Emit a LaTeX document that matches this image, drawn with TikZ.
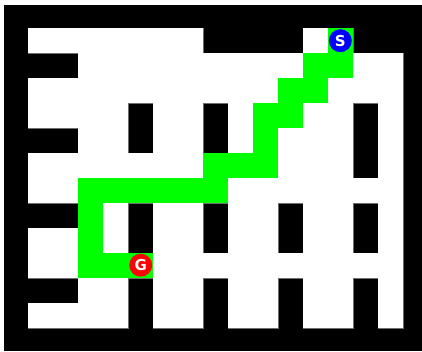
\documentclass[tikz,border=0pt]{standalone}
\usepackage{fontspec}
\setmainfont{DejaVu Sans}
\definecolor{pathgreen}{RGB}{0,255,0}
\definecolor{sblue}{RGB}{0,0,255}
\definecolor{gred}{RGB}{255,0,0}
\definecolor{edgegray}{RGB}{110,110,110}
\tikzset{
  marker/.style={circle, minimum size=23pt, inner sep=0pt, text=white,
    font=\fontsize{15}{15}\selectfont\bfseries},
}
\begin{document}
\begin{tikzpicture}[x=1pt,y=-1pt]
\useasboundingbox (0,0) rectangle (422,351);
\fill[white] (0,0) rectangle (422,351);
\fill[black] (4,5) rectangle (422,351);
% 0 = wall, 1 = free, 2 = path
\def\mazerows{%
{0,0,0,0,0,0,0,0,0,0,0,0,0,0,0,0,0},%
{0,1,1,1,1,1,1,1,0,0,0,0,1,2,0,0,0},%
{0,0,0,1,1,1,1,1,1,1,1,1,2,2,1,1,0},%
{0,1,1,1,1,1,1,1,1,1,1,2,2,1,1,1,0},%
{0,1,1,1,1,0,1,1,0,1,2,2,1,1,0,1,0},%
{0,0,0,1,1,0,1,1,0,1,2,1,1,1,0,1,0},%
{0,1,1,1,1,1,1,1,2,2,2,1,1,1,0,1,0},%
{0,1,1,2,2,2,2,2,2,1,1,1,1,1,1,1,0},%
{0,0,0,2,1,0,1,1,0,1,1,0,1,1,0,1,0},%
{0,1,1,2,1,0,1,1,0,1,1,0,1,1,0,1,0},%
{0,1,1,2,2,2,1,1,1,1,1,1,1,1,1,1,0},%
{0,0,0,1,1,0,1,1,0,1,1,0,1,1,0,1,0},%
{0,1,1,1,1,0,1,1,0,1,1,0,1,1,0,1,0},%
{0,0,0,0,0,0,0,0,0,0,0,0,0,0,0,0,0}}
% pass 1: soft edge where free cells meet walls
\foreach \row [count=\r from 0] in \mazerows {
  \foreach \v [count=\c from 0] in \row {
    \ifnum\v>0
      \fill[edgegray] ({3.3+25*\c-0.7},{3.3+25*\r-0.7}) rectangle ++(26.4,26.4);
    \fi
  }
}
% pass 2: cell colours
\foreach \row [count=\r from 0] in \mazerows {
  \foreach \v [count=\c from 0] in \row {
    \ifcase\v
    \or \fill[white] ({3.3+25*\c},{3.3+25*\r}) rectangle ++(25,25);
    \or \fill[pathgreen] ({3.3+25*\c},{3.3+25*\r}) rectangle ++(25,25);
    \fi
  }
}
\node[marker, fill=sblue] (s) at (340.3,40.7) {S};
\node[marker, fill=gred] (g) at (140.7,265.2) {G};
\end{tikzpicture}
\end{document}
